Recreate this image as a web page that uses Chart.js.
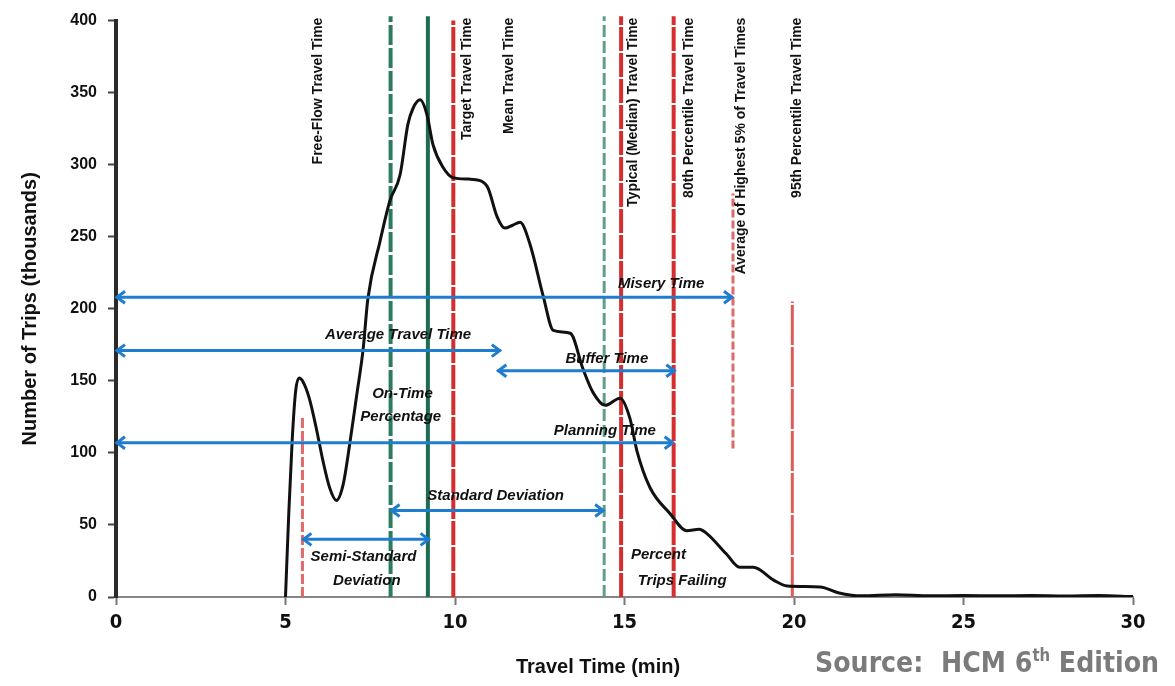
<!DOCTYPE html>
<html>
<head>
<meta charset="utf-8">
<title>Travel Time Distribution</title>
<script src="https://cdn.jsdelivr.net/npm/chart.js@4.4.0/dist/chart.umd.min.js"></script>
<style>
  body { margin: 0; background: #fff; }
  #wrap { position: relative; width: 1175px; height: 686px; }
  #source {
    position: absolute; left: 815px; top: 645px;
    font: bold 29px "DejaVu Sans Condensed", sans-serif;
    color: #7b7b7b; white-space: nowrap;
    transform: scaleX(0.97); transform-origin: left top;
  }
  #source sup { font-size: 17px; }
</style>
</head>
<body>
<div id="wrap">
  <canvas id="tripChart" width="1175" height="686"></canvas>
  <div id="source">Source:&nbsp; HCM 6<sup>th</sup> Edition</div>
</div>
<script>
// travel time distribution (min / thousands of trips)
const curveTime = [5.0, 5.1, 5.2, 5.3, 5.4, 5.5, 5.7, 5.9, 6.1, 6.3, 6.5, 6.7, 6.9, 7.1, 7.29, 7.43, 7.79, 8.08,
  8.38, 8.61, 8.76, 8.97, 9.17, 9.35, 9.65, 9.94, 10.4, 10.74, 10.97, 11.24, 11.47, 11.7, 11.92, 12.21, 12.6, 12.9,
  13.4, 13.78, 14.07, 14.43, 14.87, 15.16, 15.37, 15.75, 16.34, 16.84, 17.2, 17.43, 18.0, 18.4, 18.8,
  19.4, 19.8, 20.77, 21.3, 21.7, 22, 23, 24, 25, 26, 27, 28, 29, 30];
const curveTrips = [0, 60, 110, 143, 152, 150, 138, 118, 95, 76, 67, 78, 107, 140, 172, 207, 247, 275,
  293, 328, 339, 345, 335, 314, 298, 291, 290, 289, 284, 264, 256, 258, 260, 245, 209, 185,
  183, 158, 142, 133, 138, 124, 101, 76, 58, 46, 47, 44, 30, 20.6, 20.6,
  11.7, 7.6, 7, 3, 1.2, 0.8, 1.5, 0.8, 1, 0.8, 1, 0.7, 1, 0.3];

// vertical reference lines (x in min, from/to in thousands)
const markerTime = [5.5, 8.1, 9.2, 9.95, 14.4, 14.9, 16.45, 18.2, 19.95];
const markerFrom = [0, 0, 0, 0, 0, 0, 0, 103, 0];
const markerTo = [125, 403, 403, 400, 403, 403, 403, 280, 205];

// horizontal measure arrows
const arrowStart = [0, 0, 11.25, 0, 8.1, 5.5];
const arrowEnd = [18.2, 11.35, 16.5, 16.45, 14.4, 9.25];
const arrowLevel = [208, 171, 157, 107, 60, 40];

const xTicks = [0, 5, 10, 15, 20, 25, 30];
const yTicks = [0, 50, 100, 150, 200, 250, 300, 350, 400];

const markerStyle = [
  { color: '#e06a6a', width: 3, dash: [10, 3] },
  { color: '#2d7a62', width: 4, dash: [20, 3] },
  { color: '#1e6b54', width: 4, dash: [] },
  { color: '#d42e2e', width: 4, dash: [24, 2] },
  { color: '#5f9f88', width: 3, dash: [12, 4] },
  { color: '#d42e2e', width: 4, dash: [24, 2] },
  { color: '#d42e2e', width: 4, dash: [24, 2] },
  { color: '#e06a6a', width: 3, dash: [8, 3] },
  { color: '#e05a5a', width: 3, dash: [40, 2] }
];

// labels (vertical ones hang from the top)
const vLabels = [
  { text: 'Free-Flow Travel Time', x: 5.95 },
  { text: 'Target Travel Time', x: 10.35 },
  { text: 'Mean Travel Time', x: 11.6 },
  { text: 'Typical (Median) Travel Time', x: 15.25 },
  { text: '80th Percentile Travel Time', x: 16.9 },
  { text: 'Average of Highest 5% of Travel Times', x: 18.45 },
  { text: '95th Percentile Travel Time', x: 20.1 }
];
const hLabels = [
  { text: 'Misery Time', x: 16.08, y: 217 },
  { text: 'Average Travel Time', x: 8.32, y: 182 },
  { text: 'Buffer Time', x: 14.48, y: 165 },
  { text: 'On-Time', x: 8.45, y: 141 },
  { text: 'Percentage', x: 8.4, y: 125 },
  { text: 'Planning Time', x: 14.42, y: 115 },
  { text: 'Standard Deviation', x: 11.2, y: 70 },
  { text: 'Semi-Standard', x: 7.3, y: 28 },
  { text: 'Deviation', x: 7.4, y: 11.5 },
  { text: 'Percent', x: 16.0, y: 29 },
  { text: 'Trips Failing', x: 16.7, y: 11.5 }
];

const datasets = [];
for (let i = 0; i < arrowStart.length; i++) {
  datasets.push({
    data: [{ x: arrowStart[i], y: arrowLevel[i] }, { x: arrowEnd[i], y: arrowLevel[i] }],
    showLine: true, borderColor: '#1f7dd0', borderWidth: 3, pointRadius: 0, order: 0, clip: false
  });
}
datasets.push({
  data: curveTime.map((t, i) => ({ x: t, y: curveTrips[i] })),
  showLine: true, borderColor: '#111', borderWidth: 3, pointRadius: 0,
  cubicInterpolationMode: 'monotone', order: 1
});
for (let i = 0; i < markerTime.length; i++) {
  const s = markerStyle[i];
  datasets.push({
    data: [{ x: markerTime[i], y: markerFrom[i] }, { x: markerTime[i], y: markerTo[i] }],
    showLine: true, borderColor: s.color, borderWidth: s.width, borderDash: s.dash,
    borderCapStyle: 'butt', pointRadius: 0, order: 2, clip: false
  });
}

const overlay = {
  id: 'overlay',
  afterDatasetsDraw(chart) {
    const ctx = chart.ctx;
    const xs = chart.scales.x, ys = chart.scales.y;
    ctx.save();
    // arrow heads
    ctx.strokeStyle = '#1f7dd0';
    ctx.lineWidth = 3;
    for (let i = 0; i < arrowStart.length; i++) {
      const y = ys.getPixelForValue(arrowLevel[i]);
      const a = xs.getPixelForValue(arrowStart[i]);
      const b = xs.getPixelForValue(arrowEnd[i]);
      ctx.beginPath();
      ctx.moveTo(a + 9, y - 6); ctx.lineTo(a + 1, y); ctx.lineTo(a + 9, y + 6);
      ctx.moveTo(b - 9, y - 6); ctx.lineTo(b - 1, y); ctx.lineTo(b - 9, y + 6);
      ctx.stroke();
    }
    // horizontal labels
    ctx.fillStyle = '#111';
    ctx.font = 'italic bold 15px "Liberation Sans", Arial, sans-serif';
    ctx.textAlign = 'center';
    ctx.textBaseline = 'middle';
    hLabels.forEach(l => {
      ctx.fillText(l.text, xs.getPixelForValue(l.x), ys.getPixelForValue(l.y));
    });
    // vertical labels, read bottom to top
    ctx.font = 'bold 14px "Liberation Sans", Arial, sans-serif';
    ctx.textAlign = 'right';
    vLabels.forEach(l => {
      ctx.save();
      ctx.translate(xs.getPixelForValue(l.x), chart.chartArea.top - 3);
      ctx.rotate(-Math.PI / 2);
      ctx.fillText(l.text, 0, 0);
      ctx.restore();
    });
    // x axis title
    ctx.font = 'bold 20px "Liberation Sans", Arial, sans-serif';
    ctx.textAlign = 'center';
    ctx.fillText('Travel Time (min)', 598, 667);
    ctx.restore();
  }
};

new Chart(document.getElementById('tripChart'), {
  type: 'scatter',
  data: { datasets: datasets },
  options: {
    responsive: false,
    animation: false,
    layout: { padding: { top: 15, right: 42, left: 0, bottom: 0 } },
    plugins: { legend: { display: false }, tooltip: { enabled: false } },
    scales: {
      x: {
        type: 'linear', min: 0, max: 30,
        afterFit: s => { s.height = 89; },
        afterBuildTicks: s => { s.ticks = xTicks.map(v => ({ value: v })); },
        grid: { drawOnChartArea: false, tickLength: 8, color: '#777', tickWidth: 2 },
        border: { color: '#8a8585', width: 2 },
        ticks: { color: '#111', padding: 6, maxRotation: 0,
          font: { family: '"DejaVu Sans Condensed", sans-serif', size: 20, weight: 'bold' } }
      },
      y: {
        min: 0, max: 400,
        afterFit: s => { s.width = 116; },
        afterBuildTicks: s => { s.ticks = yTicks.map(v => ({ value: v })); },
        grid: { drawOnChartArea: false, tickLength: 8, color: '#444', tickWidth: 2 },
        border: { color: '#2a2a2a', width: 4 },
        ticks: { color: '#111', padding: 11,
          font: { family: '"Liberation Sans", Arial, sans-serif', size: 16, weight: 'bold' } },
        title: {
          display: true, text: 'Number of Trips (thousands)', color: '#111',
          padding: { top: 18, bottom: 0 },
          font: { family: '"Liberation Sans", Arial, sans-serif', size: 20, weight: 'bold' }
        }
      }
    }
  },
  plugins: [overlay]
});
</script>
</body>
</html>
